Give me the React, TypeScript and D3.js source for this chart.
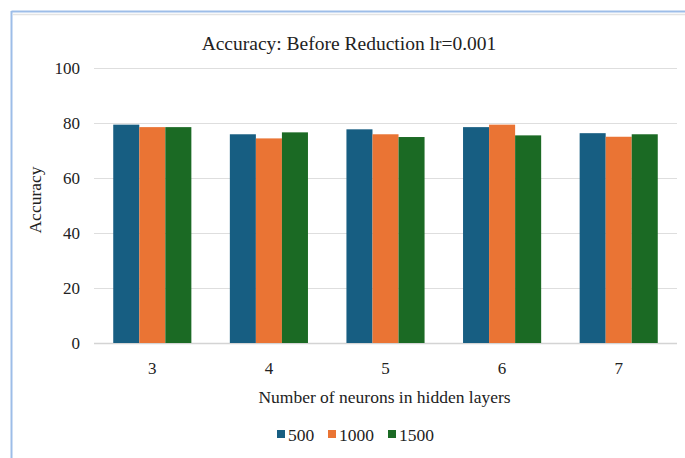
import React from "react";
import * as d3 from "d3";

// Hidden-layer neuron counts (x categories)
const categories = ["3", "4", "5", "6", "7"];
// Series: training epochs
const seriesNames = ["500", "1000", "1500"];
const values500 = [79.4, 75.9, 77.7, 78.5, 76.3];
const values1000 = [78.5, 74.4, 75.9, 79.4, 75.0];
const values1500 = [78.5, 76.6, 74.9, 75.5, 75.9];
const yTicks = [0, 20, 40, 60, 80, 100];

const colors = ["#175e82", "#ea7434", "#1b6a24"];

const W = 685;
const H = 458;
const plot = { left: 94, right: 677, top: 68, bottom: 343 };
const font = "Liberation Serif, Tinos, Times New Roman, DejaVu Serif, serif";

export default function App() {
  const series = [values500, values1000, values1500];
  const x0 = d3
    .scaleBand<string>()
    .domain(categories)
    .range([plot.left, plot.right])
    .paddingInner(0.33)
    .paddingOuter(0.165);
  const x1 = d3
    .scaleBand<string>()
    .domain(seriesNames)
    .range([0, x0.bandwidth()])
    .padding(0);
  const y = d3.scaleLinear().domain([0, 100]).range([plot.bottom, plot.top]);

  const legendItems = [
    { x: 277, label: seriesNames[0] },
    { x: 328, label: seriesNames[1] },
    { x: 388, label: seriesNames[2] },
  ];

  const txt = { fontFamily: font, fill: "#222" } as React.CSSProperties;

  return (
    <svg
      width={W}
      height={H}
      style={{ position: "absolute", left: 0, top: 0, background: "#fff", fontFamily: font }}
    >
      {/* frame */}
      <line x1={13} x2={W} y1={14.5} y2={14.5} stroke="#e3e3e3" strokeWidth={1.5} />
      <line x1={11.5} x2={W} y1={11.5} y2={11.5} stroke="#9dbde8" strokeWidth={2} />
      <line x1={11.5} x2={11.5} y1={11} y2={H} stroke="#9dbde8" strokeWidth={2} />

      <text x={349} y={50} textAnchor="middle" fontSize={19.5} style={txt}>
        Accuracy: Before Reduction lr=0.001
      </text>

      {/* gridlines */}
      {yTicks.map((t) => (
        <g key={t}>
          <line
            x1={plot.left}
            x2={plot.right}
            y1={y(t) + 0.5}
            y2={y(t) + 0.5}
            stroke={t === 0 ? "#d4d4d4" : "#dedede"}
            strokeWidth={t === 0 ? 1.5 : 1}
          />
          <text x={80} y={y(t)} dy="0.35em" textAnchor="end" fontSize={17} style={txt}>
            {t}
          </text>
        </g>
      ))}

      {/* bars */}
      {categories.map((c, i) => (
        <g key={c} transform={`translate(${x0(c)},0)`}>
          {series.map((vals, s) => (
            <rect
              key={s}
              x={x1(seriesNames[s])}
              y={y(vals[i])}
              width={x1.bandwidth()}
              height={y(0) - y(vals[i])}
              fill={colors[s]}
            />
          ))}
          <text
            x={x0.bandwidth() / 2}
            y={368}
            dy="0.35em"
            textAnchor="middle"
            fontSize={17}
            style={txt}
          >
            {c}
          </text>
        </g>
      ))}

      <text
        x={(plot.left + plot.right) / 2 - 1}
        y={403}
        textAnchor="middle"
        fontSize={17.5}
        style={txt}
      >
        Number of neurons in hidden layers
      </text>

      <text
        transform={`translate(41,200) rotate(-90)`}
        textAnchor="middle"
        fontSize={17.5}
        style={txt}
      >
        Accuracy
      </text>

      {/* legend */}
      {legendItems.map((l, i) => (
        <g key={l.label}>
          <rect x={l.x} y={430} width={8} height={8} fill={colors[i]} />
          <text x={l.x + 11} y={434.5} dy="0.35em" fontSize={17.5} style={txt}>
            {l.label}
          </text>
        </g>
      ))}
    </svg>
  );
}
